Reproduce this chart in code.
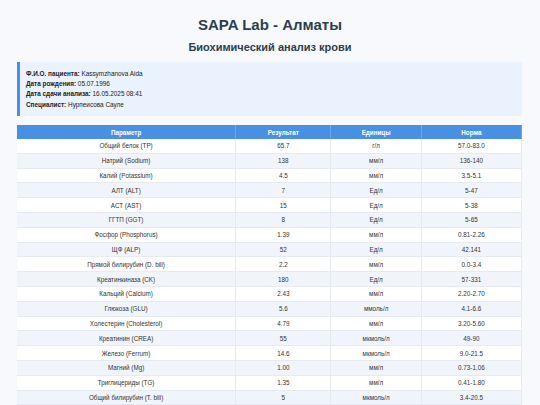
<!DOCTYPE html>
<html>
<head>
<meta charset="utf-8">
<script src="https://cdn.jsdelivr.net/npm/chart.js@4"></script>
<style>
  body { margin: 0; background: #f7f9fc; font-family: "Liberation Sans", Arial, sans-serif; color: #2c3e50; width: 540px; height: 405px; overflow: hidden; }
  h1 { font-size: 15px; text-align: center; margin: 0; position: absolute; top: 16px; width: 540px; }
  h2 { font-size: 11px; text-align: center; margin: 0; position: absolute; top: 41px; width: 540px; }
  .info { position: absolute; left: 17px; top: 62px; width: 505px; height: 54px; background: #eaf2fd; border-left: 3px solid #4a90e2; font-size: 6.4px; padding: 7px 0 0 6px; box-sizing: border-box; line-height: 10.2px; color: #222; }
  table { position: absolute; left: 17px; top: 125px; width: 505px; border-collapse: collapse; font-size: 6.3px; background: #fff; }
  th { background: #4a90e2; color: #fff; height: 14px; font-weight: bold; border-right: 1px solid #6aa6ea; padding: 0; }
  td { height: 13.8px; text-align: center; border-right: 1px solid #e6ebf2; border-bottom: 1px solid #e6ebf2; padding: 0; color: #333; }
  tr:nth-child(even) td { background: #f1f5fb; }
</style>
</head>
<body>
<h1>SAPA Lab - Алматы</h1>
<h2>Биохимический анализ крови</h2>
<div class="info" id="info"></div>
<table id="tbl"><thead><tr id="head"></tr></thead><tbody id="body"></tbody></table>
<script>
const headers = ['Параметр', 'Результат', 'Единицы', 'Норма'];
const colWidths = [220, 95, 90, 100];
const params = ['Общий белок (TP)', 'Натрий (Sodium)', 'Калий (Potassium)', 'АЛТ (ALT)', 'АСТ (AST)', 'ГГТП (GGT)', 'Фосфор (Phosphorus)', 'ЩФ (ALP)', 'Прямой билирубин (D. bili)', 'Креатинкиназа (CK)', 'Кальций (Calcium)', 'Глюкоза (GLU)', 'Холестерин (Cholesterol)', 'Креатинин (CREA)', 'Железо (Ferrum)', 'Магний (Mg)', 'Триглицериды (TG)', 'Общий билирубин (T. bili)'];
const results = ['65.7', '138', '4.5', '7', '15', '8', '1.39', '52', '2.2', '180', '2.43', '5.6', '4.79', '55', '14.6', '1.00', '1.35', '5'];
const units = ['г/л', 'мм/л', 'мм/л', 'Ед/л', 'Ед/л', 'Ед/л', 'мм/л', 'Ед/л', 'мм/л', 'Ед/л', 'мм/л', 'ммоль/л', 'мм/л', 'мкмоль/л', 'мкмоль/л', 'мм/л', 'мм/л', 'мкмоль/л'];
const norms = ['57.0-83.0', '136-140', '3.5-5.1', '5-47', '5-38', '5-65', '0.81-2.26', '42.141', '0.0-3.4', '57-331', '2.20-2.70', '4.1-6.6', '3.20-5.60', '49-90', '9.0-21.5', '0.73-1.06', '0.41-1.80', '3.4-20.5'];
const infoLabels = ['Ф.И.О. пациента:', 'Дата рождения:', 'Дата сдачи анализа:', 'Специалист:'];
const infoValues = ['Kassymzhanova Aida', '05.07.1996', '16.05.2025 08:41', 'Нурпеисова Сауле'];

const info = document.getElementById('info');
infoLabels.forEach((l, i) => {
  const d = document.createElement('div');
  const b = document.createElement('b');
  b.textContent = l;
  d.appendChild(b);
  d.appendChild(document.createTextNode(' ' + infoValues[i]));
  info.appendChild(d);
});

const head = document.getElementById('head');
headers.forEach((h, i) => {
  const th = document.createElement('th');
  th.textContent = h;
  th.style.width = colWidths[i] + 'px';
  head.appendChild(th);
});

const body = document.getElementById('body');
params.forEach((p, i) => {
  const tr = document.createElement('tr');
  [p, results[i], units[i], norms[i]].forEach(v => {
    const td = document.createElement('td');
    td.textContent = v;
    tr.appendChild(td);
  });
  body.appendChild(tr);
});
</script>
</body>
</html>
